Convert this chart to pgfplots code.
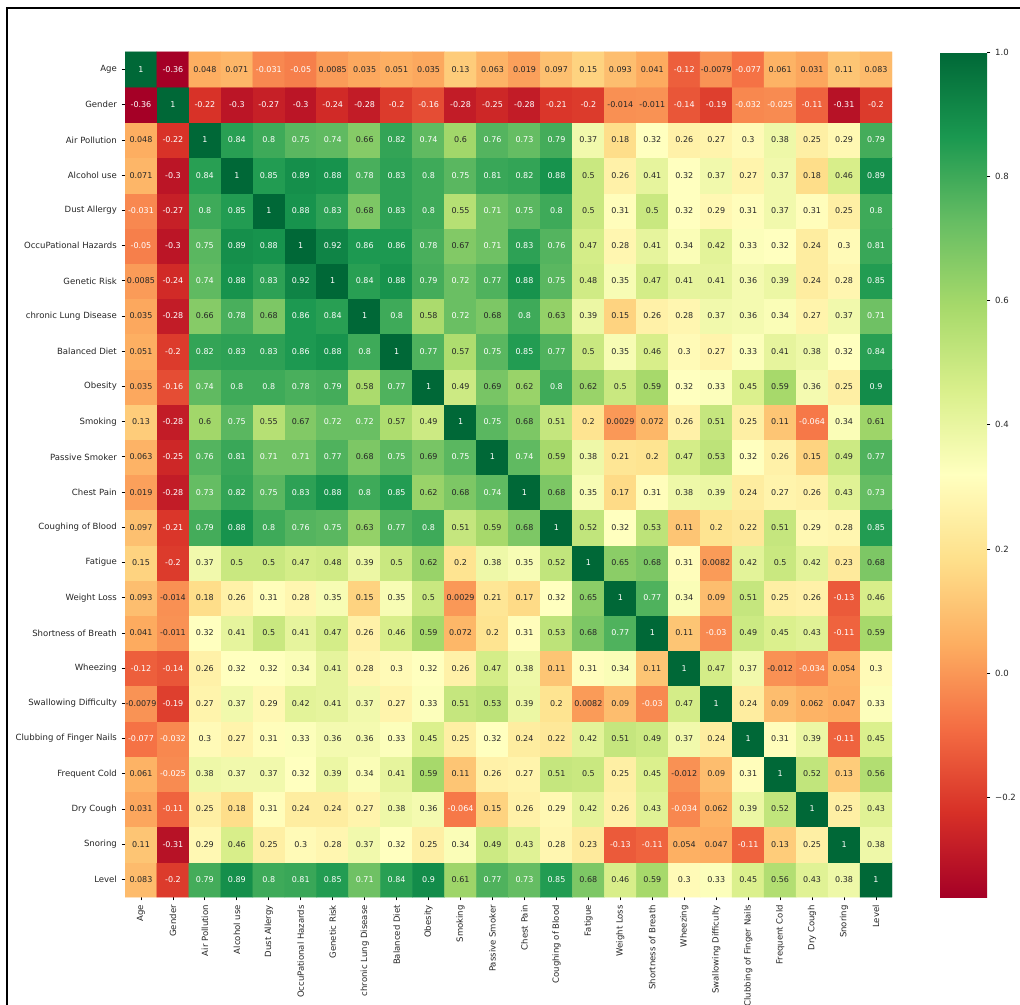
\documentclass[border=0pt]{standalone}
\usepackage{fontspec}
\setmainfont{DejaVu Sans}
\usepackage{pgfplots}
\usepackage{pgfplotstable}
\pgfplotsset{compat=1.18}
\definecolor{txt}{HTML}{262626}
\pgfplotsset{colormap={RdYlGn}{rgb255=(165,0,38) rgb255=(215,48,39) rgb255=(244,109,67) rgb255=(253,174,97) rgb255=(254,224,139) rgb255=(255,255,191) rgb255=(217,239,139) rgb255=(166,217,106) rgb255=(102,189,99) rgb255=(26,152,80) rgb255=(0,104,55)}}
\pgfplotstableread[row sep=\\]{
x y v\\
0 0 0.083\\ 1 0 -0.2\\ 2 0 0.79\\ 3 0 0.89\\ 4 0 0.8\\ 5 0 0.81\\ 6 0 0.85\\ 7 0 0.71\\ 8 0 0.84\\ 9 0 0.9\\ 10 0 0.61\\ 11 0 0.77\\ 12 0 0.73\\ 13 0 0.85\\ 14 0 0.68\\ 15 0 0.46\\ 16 0 0.59\\ 17 0 0.3\\ 18 0 0.33\\ 19 0 0.45\\ 20 0 0.56\\ 21 0 0.43\\ 22 0 0.38\\ 23 0 1\\
0 1 0.11\\ 1 1 -0.31\\ 2 1 0.29\\ 3 1 0.46\\ 4 1 0.25\\ 5 1 0.3\\ 6 1 0.28\\ 7 1 0.37\\ 8 1 0.32\\ 9 1 0.25\\ 10 1 0.34\\ 11 1 0.49\\ 12 1 0.43\\ 13 1 0.28\\ 14 1 0.23\\ 15 1 -0.13\\ 16 1 -0.11\\ 17 1 0.054\\ 18 1 0.047\\ 19 1 -0.11\\ 20 1 0.13\\ 21 1 0.25\\ 22 1 1\\ 23 1 0.38\\
0 2 0.031\\ 1 2 -0.11\\ 2 2 0.25\\ 3 2 0.18\\ 4 2 0.31\\ 5 2 0.24\\ 6 2 0.24\\ 7 2 0.27\\ 8 2 0.38\\ 9 2 0.36\\ 10 2 -0.064\\ 11 2 0.15\\ 12 2 0.26\\ 13 2 0.29\\ 14 2 0.42\\ 15 2 0.26\\ 16 2 0.43\\ 17 2 -0.034\\ 18 2 0.062\\ 19 2 0.39\\ 20 2 0.52\\ 21 2 1\\ 22 2 0.25\\ 23 2 0.43\\
0 3 0.061\\ 1 3 -0.025\\ 2 3 0.38\\ 3 3 0.37\\ 4 3 0.37\\ 5 3 0.32\\ 6 3 0.39\\ 7 3 0.34\\ 8 3 0.41\\ 9 3 0.59\\ 10 3 0.11\\ 11 3 0.26\\ 12 3 0.27\\ 13 3 0.51\\ 14 3 0.5\\ 15 3 0.25\\ 16 3 0.45\\ 17 3 -0.012\\ 18 3 0.09\\ 19 3 0.31\\ 20 3 1\\ 21 3 0.52\\ 22 3 0.13\\ 23 3 0.56\\
0 4 -0.077\\ 1 4 -0.032\\ 2 4 0.3\\ 3 4 0.27\\ 4 4 0.31\\ 5 4 0.33\\ 6 4 0.36\\ 7 4 0.36\\ 8 4 0.33\\ 9 4 0.45\\ 10 4 0.25\\ 11 4 0.32\\ 12 4 0.24\\ 13 4 0.22\\ 14 4 0.42\\ 15 4 0.51\\ 16 4 0.49\\ 17 4 0.37\\ 18 4 0.24\\ 19 4 1\\ 20 4 0.31\\ 21 4 0.39\\ 22 4 -0.11\\ 23 4 0.45\\
0 5 -0.0079\\ 1 5 -0.19\\ 2 5 0.27\\ 3 5 0.37\\ 4 5 0.29\\ 5 5 0.42\\ 6 5 0.41\\ 7 5 0.37\\ 8 5 0.27\\ 9 5 0.33\\ 10 5 0.51\\ 11 5 0.53\\ 12 5 0.39\\ 13 5 0.2\\ 14 5 0.0082\\ 15 5 0.09\\ 16 5 -0.03\\ 17 5 0.47\\ 18 5 1\\ 19 5 0.24\\ 20 5 0.09\\ 21 5 0.062\\ 22 5 0.047\\ 23 5 0.33\\
0 6 -0.12\\ 1 6 -0.14\\ 2 6 0.26\\ 3 6 0.32\\ 4 6 0.32\\ 5 6 0.34\\ 6 6 0.41\\ 7 6 0.28\\ 8 6 0.3\\ 9 6 0.32\\ 10 6 0.26\\ 11 6 0.47\\ 12 6 0.38\\ 13 6 0.11\\ 14 6 0.31\\ 15 6 0.34\\ 16 6 0.11\\ 17 6 1\\ 18 6 0.47\\ 19 6 0.37\\ 20 6 -0.012\\ 21 6 -0.034\\ 22 6 0.054\\ 23 6 0.3\\
0 7 0.041\\ 1 7 -0.011\\ 2 7 0.32\\ 3 7 0.41\\ 4 7 0.5\\ 5 7 0.41\\ 6 7 0.47\\ 7 7 0.26\\ 8 7 0.46\\ 9 7 0.59\\ 10 7 0.072\\ 11 7 0.2\\ 12 7 0.31\\ 13 7 0.53\\ 14 7 0.68\\ 15 7 0.77\\ 16 7 1\\ 17 7 0.11\\ 18 7 -0.03\\ 19 7 0.49\\ 20 7 0.45\\ 21 7 0.43\\ 22 7 -0.11\\ 23 7 0.59\\
0 8 0.093\\ 1 8 -0.014\\ 2 8 0.18\\ 3 8 0.26\\ 4 8 0.31\\ 5 8 0.28\\ 6 8 0.35\\ 7 8 0.15\\ 8 8 0.35\\ 9 8 0.5\\ 10 8 0.0029\\ 11 8 0.21\\ 12 8 0.17\\ 13 8 0.32\\ 14 8 0.65\\ 15 8 1\\ 16 8 0.77\\ 17 8 0.34\\ 18 8 0.09\\ 19 8 0.51\\ 20 8 0.25\\ 21 8 0.26\\ 22 8 -0.13\\ 23 8 0.46\\
0 9 0.15\\ 1 9 -0.2\\ 2 9 0.37\\ 3 9 0.5\\ 4 9 0.5\\ 5 9 0.47\\ 6 9 0.48\\ 7 9 0.39\\ 8 9 0.5\\ 9 9 0.62\\ 10 9 0.2\\ 11 9 0.38\\ 12 9 0.35\\ 13 9 0.52\\ 14 9 1\\ 15 9 0.65\\ 16 9 0.68\\ 17 9 0.31\\ 18 9 0.0082\\ 19 9 0.42\\ 20 9 0.5\\ 21 9 0.42\\ 22 9 0.23\\ 23 9 0.68\\
0 10 0.097\\ 1 10 -0.21\\ 2 10 0.79\\ 3 10 0.88\\ 4 10 0.8\\ 5 10 0.76\\ 6 10 0.75\\ 7 10 0.63\\ 8 10 0.77\\ 9 10 0.8\\ 10 10 0.51\\ 11 10 0.59\\ 12 10 0.68\\ 13 10 1\\ 14 10 0.52\\ 15 10 0.32\\ 16 10 0.53\\ 17 10 0.11\\ 18 10 0.2\\ 19 10 0.22\\ 20 10 0.51\\ 21 10 0.29\\ 22 10 0.28\\ 23 10 0.85\\
0 11 0.019\\ 1 11 -0.28\\ 2 11 0.73\\ 3 11 0.82\\ 4 11 0.75\\ 5 11 0.83\\ 6 11 0.88\\ 7 11 0.8\\ 8 11 0.85\\ 9 11 0.62\\ 10 11 0.68\\ 11 11 0.74\\ 12 11 1\\ 13 11 0.68\\ 14 11 0.35\\ 15 11 0.17\\ 16 11 0.31\\ 17 11 0.38\\ 18 11 0.39\\ 19 11 0.24\\ 20 11 0.27\\ 21 11 0.26\\ 22 11 0.43\\ 23 11 0.73\\
0 12 0.063\\ 1 12 -0.25\\ 2 12 0.76\\ 3 12 0.81\\ 4 12 0.71\\ 5 12 0.71\\ 6 12 0.77\\ 7 12 0.68\\ 8 12 0.75\\ 9 12 0.69\\ 10 12 0.75\\ 11 12 1\\ 12 12 0.74\\ 13 12 0.59\\ 14 12 0.38\\ 15 12 0.21\\ 16 12 0.2\\ 17 12 0.47\\ 18 12 0.53\\ 19 12 0.32\\ 20 12 0.26\\ 21 12 0.15\\ 22 12 0.49\\ 23 12 0.77\\
0 13 0.13\\ 1 13 -0.28\\ 2 13 0.6\\ 3 13 0.75\\ 4 13 0.55\\ 5 13 0.67\\ 6 13 0.72\\ 7 13 0.72\\ 8 13 0.57\\ 9 13 0.49\\ 10 13 1\\ 11 13 0.75\\ 12 13 0.68\\ 13 13 0.51\\ 14 13 0.2\\ 15 13 0.0029\\ 16 13 0.072\\ 17 13 0.26\\ 18 13 0.51\\ 19 13 0.25\\ 20 13 0.11\\ 21 13 -0.064\\ 22 13 0.34\\ 23 13 0.61\\
0 14 0.035\\ 1 14 -0.16\\ 2 14 0.74\\ 3 14 0.8\\ 4 14 0.8\\ 5 14 0.78\\ 6 14 0.79\\ 7 14 0.58\\ 8 14 0.77\\ 9 14 1\\ 10 14 0.49\\ 11 14 0.69\\ 12 14 0.62\\ 13 14 0.8\\ 14 14 0.62\\ 15 14 0.5\\ 16 14 0.59\\ 17 14 0.32\\ 18 14 0.33\\ 19 14 0.45\\ 20 14 0.59\\ 21 14 0.36\\ 22 14 0.25\\ 23 14 0.9\\
0 15 0.051\\ 1 15 -0.2\\ 2 15 0.82\\ 3 15 0.83\\ 4 15 0.83\\ 5 15 0.86\\ 6 15 0.88\\ 7 15 0.8\\ 8 15 1\\ 9 15 0.77\\ 10 15 0.57\\ 11 15 0.75\\ 12 15 0.85\\ 13 15 0.77\\ 14 15 0.5\\ 15 15 0.35\\ 16 15 0.46\\ 17 15 0.3\\ 18 15 0.27\\ 19 15 0.33\\ 20 15 0.41\\ 21 15 0.38\\ 22 15 0.32\\ 23 15 0.84\\
0 16 0.035\\ 1 16 -0.28\\ 2 16 0.66\\ 3 16 0.78\\ 4 16 0.68\\ 5 16 0.86\\ 6 16 0.84\\ 7 16 1\\ 8 16 0.8\\ 9 16 0.58\\ 10 16 0.72\\ 11 16 0.68\\ 12 16 0.8\\ 13 16 0.63\\ 14 16 0.39\\ 15 16 0.15\\ 16 16 0.26\\ 17 16 0.28\\ 18 16 0.37\\ 19 16 0.36\\ 20 16 0.34\\ 21 16 0.27\\ 22 16 0.37\\ 23 16 0.71\\
0 17 0.0085\\ 1 17 -0.24\\ 2 17 0.74\\ 3 17 0.88\\ 4 17 0.83\\ 5 17 0.92\\ 6 17 1\\ 7 17 0.84\\ 8 17 0.88\\ 9 17 0.79\\ 10 17 0.72\\ 11 17 0.77\\ 12 17 0.88\\ 13 17 0.75\\ 14 17 0.48\\ 15 17 0.35\\ 16 17 0.47\\ 17 17 0.41\\ 18 17 0.41\\ 19 17 0.36\\ 20 17 0.39\\ 21 17 0.24\\ 22 17 0.28\\ 23 17 0.85\\
0 18 -0.05\\ 1 18 -0.3\\ 2 18 0.75\\ 3 18 0.89\\ 4 18 0.88\\ 5 18 1\\ 6 18 0.92\\ 7 18 0.86\\ 8 18 0.86\\ 9 18 0.78\\ 10 18 0.67\\ 11 18 0.71\\ 12 18 0.83\\ 13 18 0.76\\ 14 18 0.47\\ 15 18 0.28\\ 16 18 0.41\\ 17 18 0.34\\ 18 18 0.42\\ 19 18 0.33\\ 20 18 0.32\\ 21 18 0.24\\ 22 18 0.3\\ 23 18 0.81\\
0 19 -0.031\\ 1 19 -0.27\\ 2 19 0.8\\ 3 19 0.85\\ 4 19 1\\ 5 19 0.88\\ 6 19 0.83\\ 7 19 0.68\\ 8 19 0.83\\ 9 19 0.8\\ 10 19 0.55\\ 11 19 0.71\\ 12 19 0.75\\ 13 19 0.8\\ 14 19 0.5\\ 15 19 0.31\\ 16 19 0.5\\ 17 19 0.32\\ 18 19 0.29\\ 19 19 0.31\\ 20 19 0.37\\ 21 19 0.31\\ 22 19 0.25\\ 23 19 0.8\\
0 20 0.071\\ 1 20 -0.3\\ 2 20 0.84\\ 3 20 1\\ 4 20 0.85\\ 5 20 0.89\\ 6 20 0.88\\ 7 20 0.78\\ 8 20 0.83\\ 9 20 0.8\\ 10 20 0.75\\ 11 20 0.81\\ 12 20 0.82\\ 13 20 0.88\\ 14 20 0.5\\ 15 20 0.26\\ 16 20 0.41\\ 17 20 0.32\\ 18 20 0.37\\ 19 20 0.27\\ 20 20 0.37\\ 21 20 0.18\\ 22 20 0.46\\ 23 20 0.89\\
0 21 0.048\\ 1 21 -0.22\\ 2 21 1\\ 3 21 0.84\\ 4 21 0.8\\ 5 21 0.75\\ 6 21 0.74\\ 7 21 0.66\\ 8 21 0.82\\ 9 21 0.74\\ 10 21 0.6\\ 11 21 0.76\\ 12 21 0.73\\ 13 21 0.79\\ 14 21 0.37\\ 15 21 0.18\\ 16 21 0.32\\ 17 21 0.26\\ 18 21 0.27\\ 19 21 0.3\\ 20 21 0.38\\ 21 21 0.25\\ 22 21 0.29\\ 23 21 0.79\\
0 22 -0.36\\ 1 22 1\\ 2 22 -0.22\\ 3 22 -0.3\\ 4 22 -0.27\\ 5 22 -0.3\\ 6 22 -0.24\\ 7 22 -0.28\\ 8 22 -0.2\\ 9 22 -0.16\\ 10 22 -0.28\\ 11 22 -0.25\\ 12 22 -0.28\\ 13 22 -0.21\\ 14 22 -0.2\\ 15 22 -0.014\\ 16 22 -0.011\\ 17 22 -0.14\\ 18 22 -0.19\\ 19 22 -0.032\\ 20 22 -0.025\\ 21 22 -0.11\\ 22 22 -0.31\\ 23 22 -0.2\\
0 23 1\\ 1 23 -0.36\\ 2 23 0.048\\ 3 23 0.071\\ 4 23 -0.031\\ 5 23 -0.05\\ 6 23 0.0085\\ 7 23 0.035\\ 8 23 0.051\\ 9 23 0.035\\ 10 23 0.13\\ 11 23 0.063\\ 12 23 0.019\\ 13 23 0.097\\ 14 23 0.15\\ 15 23 0.093\\ 16 23 0.041\\ 17 23 -0.12\\ 18 23 -0.0079\\ 19 23 -0.077\\ 20 23 0.061\\ 21 23 0.031\\ 22 23 0.11\\ 23 23 0.083\\
}\heat
\begin{document}
\begin{tikzpicture}
\draw[line width=1.3pt] (5.25pt,-6pt) rectangle (768pt,-758pt);
\begin{axis}[
  at={(93.75pt,-39pt)}, anchor=north west,
  scale only axis, width=575.25pt, height=633.75pt,
  xmin=-0.5, xmax=23.5, ymin=-0.5, ymax=23.5,
  axis line style={draw=none},
  tick pos=left, tick align=outside, major tick length=2.6pt,
  tick style={black, line width=0.6pt},
  xtick={0,...,23}, ytick={0,...,23},
  xticklabels={Age, Gender, Air Pollution, Alcohol use, Dust Allergy, OccuPational Hazards, Genetic Risk, chronic Lung Disease, Balanced Diet, Obesity, Smoking, Passive Smoker, Chest Pain, Coughing of Blood, Fatigue, Weight Loss, Shortness of Breath, Wheezing, Swallowing Difficulty, Clubbing of Finger Nails, Frequent Cold, Dry Cough, Snoring, Level},
  yticklabels={Level, Snoring, Dry Cough, Frequent Cold, Clubbing of Finger Nails, Swallowing Difficulty, Wheezing, Shortness of Breath, Weight Loss, Fatigue, Coughing of Blood, Chest Pain, Passive Smoker, Smoking, Obesity, Balanced Diet, chronic Lung Disease, Genetic Risk, OccuPational Hazards, Dust Allergy, Alcohol use, Air Pollution, Gender, Age},
  tick label style={font=\fontsize{6.4}{7.6}\selectfont, text=txt},
  x tick label style={rotate=90, anchor=east},
  colorbar,
  colorbar/width=35.25pt,
  colorbar shift/.style={},
  point meta min=-0.36, point meta max=1,
  colorbar style={
    at={(parent axis.north east)}, anchor=north west, xshift=36pt,
    height=633.75pt,
    axis line style={draw=none},
    ytick={-0.2,0,0.2,0.4,0.6,0.8,1},
    yticklabels={−0.2,0.0,0.2,0.4,0.6,0.8,1.0},
    ytick pos=right, yticklabel pos=right,
    tick align=outside, major tick length=2.6pt,
    tick style={black, line width=0.6pt},
    yticklabel style={font=\fontsize{6.4}{7.6}\selectfont, text=txt},
  },
]
\addplot[matrix plot*, mesh/cols=24, point meta=explicit] table[x=x, y=y, meta=v] {\heat};
\addplot[draw=none, mark=none, point meta=explicit,
  restrict expr to domain={abs(\thisrow{v}-0.3375)}{0:0.3575},
  nodes near coords, nodes near coords align=center,
  every node near coord/.append style={font=\fontsize{6}{7}\selectfont, text=txt, inner sep=0pt, anchor=center,
    /pgf/number format/.cd, fixed, precision=4, assume math mode=true},
] table[x=x, y=y, meta=v] {\heat};
\addplot[draw=none, mark=none, point meta=explicit,
  restrict expr to domain={abs(\thisrow{v}-0.3375)}{0.3575:5},
  nodes near coords, nodes near coords align=center,
  every node near coord/.append style={font=\fontsize{6}{7}\selectfont, text=white, inner sep=0pt, anchor=center,
    /pgf/number format/.cd, fixed, precision=4, assume math mode=true},
] table[x=x, y=y, meta=v] {\heat};
\end{axis}
\pgfresetboundingbox
\useasboundingbox (0,0) rectangle (765pt,-753.75pt);
\end{tikzpicture}
\end{document}
